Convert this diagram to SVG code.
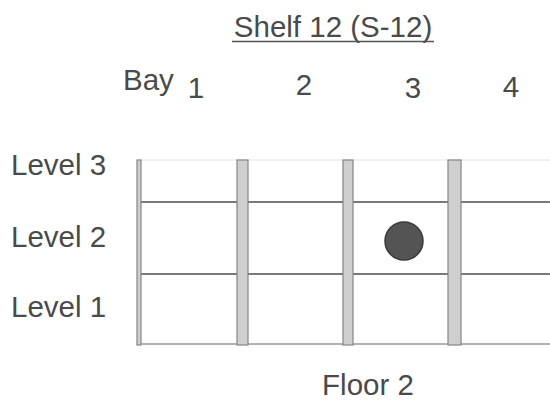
<svg xmlns="http://www.w3.org/2000/svg" width="550" height="402" viewBox="0 0 550 402">
<style>
text{font-family:"Liberation Sans",Arial,sans-serif;fill:#4a4a4a;font-size:29.5px}
.h{stroke:#7a7a7a;stroke-width:2;fill:none}
.post{fill:#cfcfcf;stroke:#858585;stroke-width:1.2}
</style>
<rect width="550" height="402" fill="#ffffff"/>
<g id="title">
<text x="333" y="37" text-anchor="middle">Shelf 12 (S-12)</text>
<line x1="232" y1="41.5" x2="434" y2="41.5" stroke="#555" stroke-width="1.6"/>
</g>
<g id="bays">
<text x="123" y="90">Bay</text>
<text x="196" y="98" text-anchor="middle">1</text>
<text x="304" y="95" text-anchor="middle">2</text>
<text x="413" y="98" text-anchor="middle">3</text>
<text x="511" y="97" text-anchor="middle">4</text>
</g>
<g id="levels">
<text x="11" y="175">Level 3</text>
<text x="11" y="247">Level 2</text>
<text x="11" y="317">Level 1</text>
</g>
<g id="grid">
<line x1="139" y1="160" x2="550" y2="160" stroke="#e2e2e2" stroke-width="1"/>
<line class="h" x1="138" y1="202" x2="550" y2="202"/>
<line class="h" x1="138" y1="274" x2="550" y2="274"/>
<line x1="138" y1="344" x2="550" y2="344" stroke="#999" stroke-width="1.5"/>
<rect class="post" x="137" y="160" width="4" height="185"/>
<rect class="post" x="237" y="160" width="11" height="185"/>
<rect class="post" x="343" y="160" width="10" height="185"/>
<rect class="post" x="448" y="160" width="13" height="185"/>
</g>
<g id="item">
<circle cx="404" cy="241" r="19" fill="#545454" stroke="#3a3a3a" stroke-width="1.5"/>
</g>
<g id="floor">
<text x="368" y="395" text-anchor="middle">Floor 2</text>
</g>
</svg>
